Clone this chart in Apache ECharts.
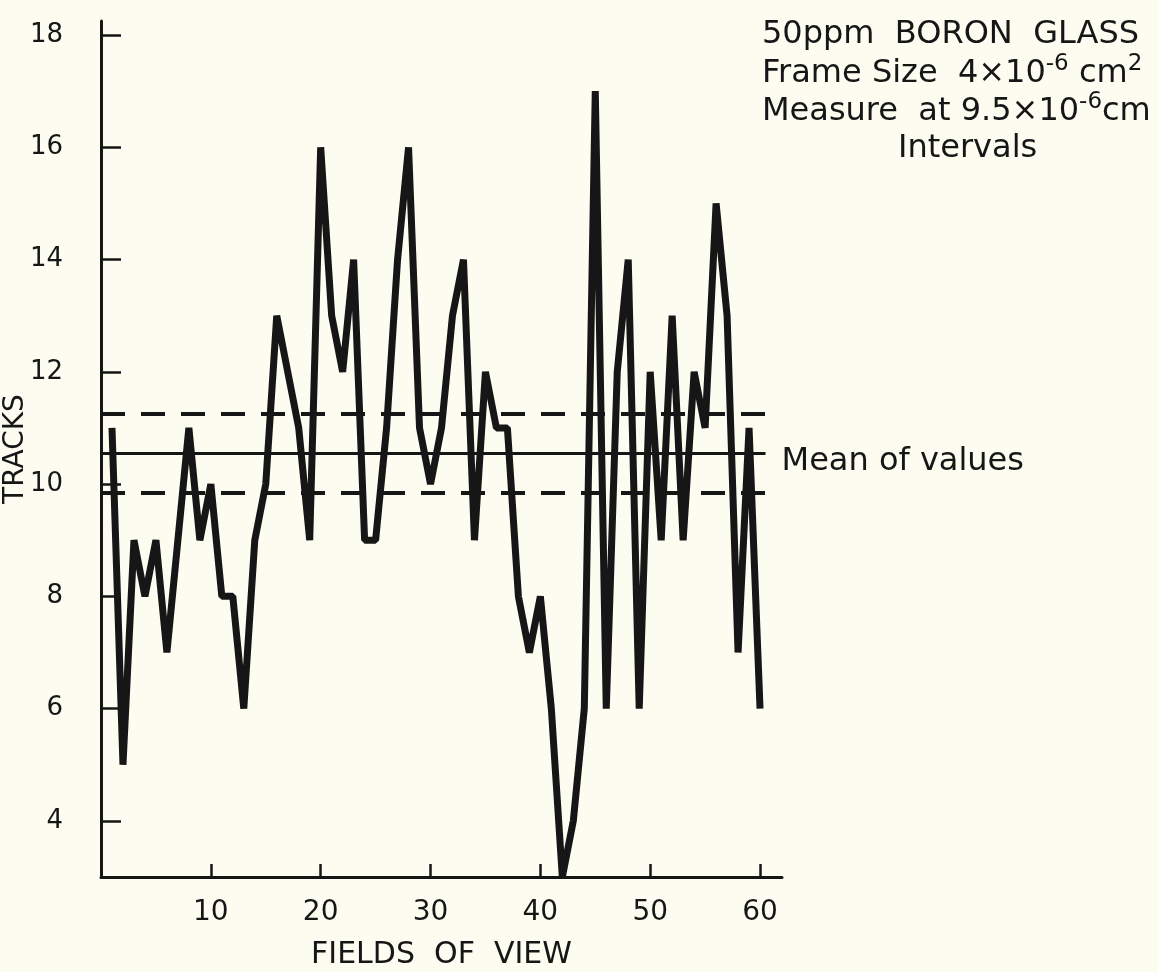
<!DOCTYPE html>
<html>
<head>
<meta charset="utf-8" />
<title>Boron glass tracks</title>
<script src="https://cdn.jsdelivr.net/npm/echarts@6.0.0/dist/echarts.min.js"></script>
<style>
  html, body { margin: 0; padding: 0; background: #fcfcf1; }
  #chart { width: 1158px; height: 972px; }
</style>
</head>
<body>
<div id="chart"></div>
<script>
// field of view number
const FIELDS = [
  1, 2, 3, 4, 5, 6, 7, 8, 9, 10,
  11, 12, 13, 14, 15, 16, 17, 18, 19, 20,
  21, 22, 23, 24, 25, 26, 27, 28, 29, 30,
  31, 32, 33, 34, 35, 36, 37, 38, 39, 40,
  41, 42, 43, 44, 45, 46, 47, 48, 49, 50,
  51, 52, 53, 54, 55, 56, 57, 58, 59, 60,
];
// tracks counted in each field
const TRACKS = [
  11, 5, 9, 8, 9, 7, 9, 11, 9, 10,
  8, 8, 6, 9, 10, 13, 12, 11, 9, 16,
  13, 12, 14, 9, 9, 11, 14, 16, 11, 10,
  11, 13, 14, 9, 12, 11, 11, 8, 7, 8,
  6, 3, 4, 6, 17, 6, 12, 14, 6, 12,
  9, 13, 9, 12, 11, 15, 13, 7, 11, 6,
];
// mean and its band, drawn across the fields
const MEAN_LEVELS = [11.25, 10.55, 9.85];
const MEAN_SPAN = [0, 60.5];

const Y_TICKS = [4, 6, 8, 10, 12, 14, 16, 18];
const X_TICKS = [10, 20, 30, 40, 50, 60];

const INK = "#161616";
const FONT = "DejaVu Sans";

function levelLine(value, style, label) {
  return [
    {
      coord: [MEAN_SPAN[0], value],
      lineStyle: style,
      label: label || { show: false },
    },
    { coord: [MEAN_SPAN[1], value] },
  ];
}

function getChartOption() {
  const text = { fontFamily: FONT, fontSize: 32, fontWeight: "normal", color: INK };
  const sup = {
    fontFamily: FONT,
    fontSize: 23,
    fontWeight: "normal",
    color: INK,
    padding: [0, 0, 19, 0],
  };

  return {
    backgroundColor: "#fcfcf1",
    animation: false,
    title: [
      { left: 762, top: 19, padding: 0, text: "50ppm  BORON  GLASS", textStyle: text },
      {
        left: 762,
        top: 53,
        padding: 0,
        text: "{t|Frame Size  4×10}{s|-6}{t| cm}{s|2}",
        textStyle: { rich: { t: text, s: sup } },
      },
      {
        left: 762,
        top: 91,
        padding: 0,
        text: "{t|Measure  at 9.5×10}{s|-6}{t|cm}",
        textStyle: { rich: { t: text, s: sup } },
      },
      { left: 898, top: 133, padding: 0, text: "Intervals", textStyle: text },
    ],
    grid: {
      left: 101,
      right: 376,
      top: 21,
      bottom: 95,
      outerBoundsMode: "none",
    },
    xAxis: {
      type: "value",
      min: 0,
      max: 62,
      name: "FIELDS  OF  VIEW",
      nameLocation: "middle",
      nameGap: 63,
      nameMoveOverlap: false,
      nameTextStyle: { ...text, fontSize: 30 },
      axisLine: { lineStyle: { color: INK, width: 3 } },
      axisTick: {
        inside: true,
        length: 13,
        customValues: X_TICKS,
        lineStyle: { color: INK, width: 2.5 },
      },
      axisLabel: {
        customValues: X_TICKS,
        margin: 22,
        fontFamily: FONT,
        fontSize: 28,
        color: INK,
      },
      splitLine: { show: false },
    },
    yAxis: {
      type: "value",
      min: 3,
      max: 18.25,
      name: "TRACKS",
      nameLocation: "middle",
      nameGap: 71,
      nameRotate: 90,
      nameMoveOverlap: false,
      nameTextStyle: { ...text, fontSize: 28 },
      axisLine: { lineStyle: { color: INK, width: 3 } },
      axisTick: {
        inside: true,
        length: 20,
        customValues: Y_TICKS,
        lineStyle: { color: INK, width: 2.5 },
      },
      axisLabel: {
        customValues: Y_TICKS,
        margin: 38,
        fontFamily: FONT,
        fontSize: 26,
        color: INK,
      },
      splitLine: { show: false },
    },
    series: [
      {
        name: "Tracks",
        type: "line",
        symbol: "none",
        data: FIELDS.map((f, i) => [f, TRACKS[i]]),
        lineStyle: { color: INK, width: 7, cap: "butt" },
        markLine: {
          silent: true,
          symbol: ["none", "none"],
          data: [
            levelLine(MEAN_LEVELS[0], { color: INK, width: 4, type: [24, 16] }),
            levelLine(
              MEAN_LEVELS[1],
              { color: INK, width: 3, type: "solid" },
              {
                show: true,
                position: "end",
                distance: 16,
                formatter: "Mean of values",
                fontFamily: FONT,
                fontSize: 32,
                color: INK,
                offset: [0, 8],
              }
            ),
            levelLine(MEAN_LEVELS[2], { color: INK, width: 4, type: [24, 16] }),
          ],
        },
      },
    ],
  };
}

const chart = echarts.init(document.getElementById("chart"));
chart.setOption(getChartOption());
</script>
</body>
</html>
